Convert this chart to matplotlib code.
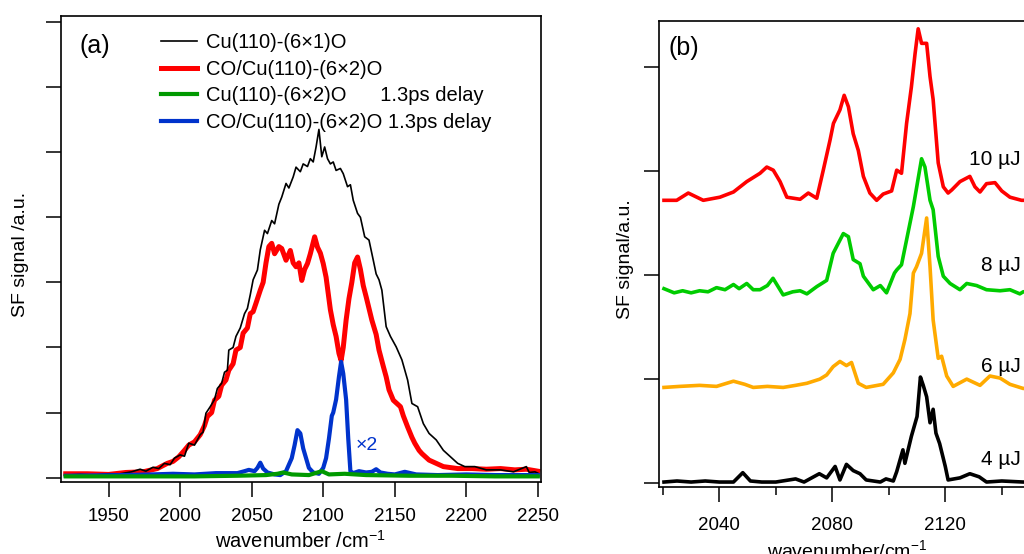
import matplotlib
matplotlib.use("Agg")
import matplotlib.pyplot as plt
from matplotlib.ticker import MultipleLocator

plt.rcParams['font.family'] = ['Liberation Sans', 'DejaVu Sans']
plt.rcParams['mathtext.fontset'] = 'custom'
plt.rcParams['mathtext.rm'] = 'Liberation Sans'

# ---- panel (a) data, y in tick units ----
wn_black = [1920, 1930, 1940, 1950, 1958, 1966, 1972, 1976, 1981, 1985, 1989, 1993, 1996, 2000,
            2003, 2006, 2010, 2014, 2016, 2018, 2021, 2024, 2026, 2029, 2031, 2033, 2034, 2037,
            2039, 2042, 2045, 2047, 2049, 2051, 2054, 2056, 2059, 2061, 2064, 2066, 2069, 2071,
            2074, 2076, 2079, 2081, 2084, 2086, 2089, 2091, 2093, 2095, 2097, 2099, 2101, 2103,
            2105, 2107, 2109, 2112, 2114, 2117, 2119, 2121, 2124, 2126, 2129, 2132, 2135, 2137,
            2139, 2141, 2144, 2147, 2151, 2155, 2159, 2162, 2166, 2170, 2174, 2179, 2184, 2189,
            2194, 2199, 2206, 2214, 2224, 2233, 2242, 2244, 2248, 2250]
sig_black = [0.04, 0.05, 0.04, 0.06, 0.06, 0.09, 0.13, 0.10, 0.16, 0.14, 0.22, 0.20, 0.30, 0.35,
             0.33, 0.53, 0.50, 0.66, 0.70, 0.99, 1.09, 1.20, 1.37, 1.45, 1.62, 1.65, 1.96, 2.00,
             2.17, 2.30, 2.52, 2.60, 2.81, 3.04, 3.19, 3.50, 3.80, 3.75, 3.95, 3.90, 4.20, 4.31,
             4.52, 4.45, 4.62, 4.77, 4.70, 4.82, 4.78, 4.90, 4.85, 5.08, 5.35, 4.93, 5.08, 4.90,
             4.82, 4.85, 4.72, 4.75, 4.67, 4.47, 4.50, 4.26, 4.06, 4.00, 3.70, 3.65, 3.34, 3.13,
             3.04, 2.88, 2.32, 2.17, 2.01, 1.81, 1.50, 1.14, 1.09, 0.83, 0.68, 0.58, 0.42, 0.32,
             0.22, 0.17, 0.17, 0.12, 0.12, 0.09, 0.17, 0.08, 0.09, 0.07]

wn_red = [1920, 1935, 1950, 1962, 1974, 1984, 1991, 1995, 1999, 2003, 2006, 2010, 2014, 2017,
          2019, 2022, 2024, 2027, 2029, 2032, 2034, 2037, 2039, 2042, 2044, 2047, 2049, 2051,
          2053, 2056, 2058, 2060, 2062, 2064, 2066, 2069, 2071, 2074, 2077, 2079, 2081, 2083,
          2085, 2087, 2089, 2091, 2094, 2096, 2098, 2100, 2102, 2105, 2107, 2109, 2111, 2112.5,
          2114, 2116, 2118, 2120, 2122, 2124, 2126, 2128, 2130, 2132, 2134, 2137, 2139, 2142,
          2144, 2146, 2149, 2151, 2154, 2156, 2159, 2162, 2164, 2167, 2169, 2174, 2179, 2184,
          2194, 2204, 2214, 2224, 2234, 2242, 2250]
sig_red = [0.06, 0.06, 0.05, 0.08, 0.09, 0.14, 0.22, 0.25, 0.32, 0.42, 0.50, 0.55, 0.66, 0.80,
           0.94, 1.00, 1.19, 1.25, 1.42, 1.50, 1.65, 1.75, 1.96, 2.00, 2.22, 2.30, 2.52, 2.55,
           2.68, 2.88, 3.00, 3.30, 3.55, 3.60, 3.44, 3.55, 3.52, 3.34, 3.49, 3.30, 3.24, 3.30,
           3.03, 3.20, 3.29, 3.44, 3.70, 3.54, 3.45, 3.29, 3.08, 2.58, 2.35, 2.17, 1.91, 1.80,
           2.00, 2.42, 2.75, 3.00, 3.30, 3.39, 3.20, 2.95, 2.78, 2.60, 2.42, 2.20, 1.96, 1.71,
           1.55, 1.35, 1.19, 1.15, 1.09, 0.95, 0.78, 0.62, 0.53, 0.42, 0.37, 0.27, 0.22, 0.17,
           0.14, 0.14, 0.13, 0.14, 0.12, 0.13, 0.10]

wn_blue = [1920, 1960, 1980, 1995, 2010, 2025, 2040, 2045, 2048, 2052, 2054, 2056, 2058, 2061,
           2066, 2070, 2074, 2076, 2078, 2080, 2082, 2084, 2086, 2088, 2090, 2093, 2097, 2100,
           2102, 2104, 2106, 2107, 2109, 2111, 2112.5, 2114, 2116, 2117.5, 2119, 2121, 2125,
           2130, 2134, 2137, 2140, 2145, 2150, 2157, 2165, 2180, 2200, 2220, 2250]
sig_blue = [0.03, 0.04, 0.05, 0.06, 0.05, 0.07, 0.07, 0.10, 0.12, 0.10, 0.15, 0.23, 0.14, 0.08,
            0.05, 0.04, 0.10, 0.20, 0.30, 0.50, 0.73, 0.68, 0.45, 0.30, 0.15, 0.08, 0.06, 0.15,
            0.30, 0.60, 0.95, 1.00, 1.20, 1.55, 1.78, 1.60, 1.20, 0.60, 0.10, 0.07, 0.10,
            0.08, 0.09, 0.13, 0.08, 0.06, 0.05, 0.09, 0.05, 0.04, 0.05, 0.04, 0.04]

wn_green = [1920, 1950, 1980, 2010, 2040, 2060, 2068, 2072, 2078, 2090, 2096, 2099, 2104, 2115,
            2130, 2160, 2190, 2220, 2250]
sig_green = [0.02, 0.02, 0.02, 0.02, 0.03, 0.04, 0.06, 0.08, 0.05, 0.04, 0.08, 0.10, 0.05, 0.06,
             0.04, 0.03, 0.03, 0.02, 0.02]

labels_a = ['Cu(110)-(6\u00d71)O', 'CO/Cu(110)-(6\u00d72)O',
            'Cu(110)-(6\u00d72)O      1.3ps delay', 'CO/Cu(110)-(6\u00d72)O 1.3ps delay']

# ---- panel (b) data, offset traces ----
wn_4uj = [2020.4, 2025, 2030, 2035, 2040, 2045, 2048.3, 2051, 2055, 2060, 2067, 2070, 2075.4,
          2078, 2081, 2082.7, 2085, 2087.4, 2089.8, 2092, 2097, 2099, 2101.6, 2102.8, 2105,
          2105.7, 2108, 2110, 2111.2, 2112.2, 2113.4, 2114.6, 2115.7, 2116.7, 2118, 2120, 2121,
          2125.2, 2128.7, 2132, 2134.6, 2140, 2147.6, 2152]
sig_4uj = [0.01, 0.02, 0.01, 0.02, 0.01, 0.01, 0.10, 0.02, 0.01, 0.01, 0.04, 0.01, 0.09,
           0.05, 0.16, 0.03, 0.18, 0.12, 0.09, 0.03, 0.01, 0.04, 0.02, 0.11, 0.32,
           0.19, 0.45, 0.64, 1.02, 0.94, 0.83, 0.58, 0.71, 0.48, 0.38, 0.16, 0.03,
           0.05, 0.09, 0.06, 0.01, 0.02, 0.01, 0.01]

wn_6uj = [2020.4, 2026, 2033, 2039, 2045, 2049, 2052, 2057, 2062.6, 2067, 2071, 2075.6, 2078,
          2080.3, 2082.7, 2085, 2086.8, 2089.2, 2092, 2098, 2101.6, 2104, 2105.7, 2107.5,
          2108.7, 2109.8, 2111.6, 2113.4, 2114.6, 2115.7, 2117.5, 2118.7, 2120.5, 2122.8,
          2127.6, 2132.3, 2135.8, 2139.4, 2142.9, 2147.6, 2152]
sig_6uj = [0.92, 0.93, 0.94, 0.93, 0.98, 0.95, 0.92, 0.93, 0.92, 0.94, 0.96, 1.00, 1.04,
           1.12, 1.17, 1.13, 1.16, 0.96, 0.92, 0.95, 1.06, 1.19, 1.38, 1.63,
           2.02, 2.08, 2.21, 2.55, 2.08, 1.57, 1.20, 1.22, 1.03, 0.93,
           1.00, 0.94, 1.03, 1.01, 0.95, 0.91, 0.92]

wn_8uj = [2020.4, 2024, 2027, 2030, 2033, 2036, 2039, 2042, 2045, 2047, 2049.7, 2052, 2054.4,
          2057, 2059, 2062.6, 2066, 2068.6, 2071, 2074.5, 2078, 2080.3, 2082, 2083.9, 2085.7,
          2087.4, 2089.8, 2091, 2094.5, 2097, 2099.2, 2102, 2102.8, 2104.5, 2106.3, 2108.7,
          2111.6, 2112.8, 2114.6, 2115.7, 2117.5, 2119.3, 2121.7, 2125.2, 2127.6, 2131.1,
          2134.6, 2139.4, 2142.9, 2146.4, 2147.6, 2152]
sig_8uj = [1.87, 1.83, 1.85, 1.83, 1.85, 1.84, 1.88, 1.86, 1.91, 1.87, 1.92, 1.86, 1.86,
           1.90, 1.97, 1.81, 1.84, 1.85, 1.82, 1.89, 1.95, 2.21, 2.30, 2.40, 2.37,
           2.15, 2.11, 1.99, 1.86, 1.90, 1.83, 2.02, 2.05, 2.10, 2.34, 2.66,
           3.12, 3.04, 2.72, 2.63, 2.18, 1.99, 1.92, 1.86, 1.92, 1.90,
           1.86, 1.85, 1.86, 1.82, 1.84, 1.85]

wn_10uj = [2020.4, 2024.9, 2029, 2034.3, 2040.2, 2045, 2049.7, 2054.4, 2056.8, 2059.1, 2061.5,
           2063.9, 2068.6, 2071.5, 2074.5, 2076.8, 2079.2, 2080.4, 2082.7, 2084.2, 2085.7,
           2087.4, 2089.2, 2091, 2093.3, 2095.7, 2098, 2101, 2102.8, 2104.5, 2106.3, 2108,
           2109.3, 2110.4, 2111.6, 2113.4, 2114.6, 2115.7, 2117.5, 2119.3, 2121, 2122.3,
           2125.2, 2128.7, 2130.5, 2132.3, 2134.6, 2137.6, 2140, 2142.9, 2147, 2152]
sig_10uj = [2.72, 2.72, 2.79, 2.72, 2.75, 2.80, 2.90, 2.98, 3.04, 3.01, 2.90,
            2.75, 2.73, 2.79, 2.74, 3.01, 3.30, 3.46, 3.59, 3.73, 3.62,
            3.36, 3.20, 2.95, 2.79, 2.72, 2.78, 2.81, 3.01, 2.98, 3.46, 3.81,
            4.13, 4.37, 4.23, 4.23, 3.91, 3.69, 3.08, 2.85, 2.79, 2.82,
            2.90, 2.95, 2.85, 2.80, 2.88, 2.89, 2.81, 2.75, 2.72, 2.72]

label_b = ['4 \u00b5J', '6 \u00b5J', '8 \u00b5J', '10 \u00b5J']
label_b_y = [0.23, 1.12, 2.09, 3.11]

fig = plt.figure(figsize=(10.24, 5.54), dpi=100)

# ---------------- panel (a) ----------------
ax1 = fig.add_axes([0.0593, 0.130, 0.4691, 0.8417])
ax1.plot(wn_red, sig_red, color='#ff0000', lw=3.6, zorder=1, label=labels_a[1])
ax1.plot(wn_black, sig_black, color='black', lw=1.2, zorder=2, label=labels_a[0])
ax1.plot(wn_blue, sig_blue, color='#0033cc', lw=3.0, zorder=3, label=labels_a[3])
ax1.plot(wn_green, sig_green, color='#009900', lw=3.0, zorder=4, label=labels_a[2])
ax1.set_xlim(1916.5, 2252.3)
ax1.set_ylim(-0.066, 7.097)
ax1.set_xticks([1950, 2000, 2050, 2100, 2150, 2200, 2250])
ax1.set_yticks(range(8))
ax1.set_yticklabels([])
ax1.tick_params(direction='out', length=11, width=1.1, labelsize=13.5, pad=8)
for s in ax1.spines.values():
    s.set_linewidth(1.2)
ax1.set_xlabel('wavenumber /cm$^{-1}$', fontsize=14.5, labelpad=3)
ax1.set_ylabel('SF signal /a.u.', fontsize=14)
ax1.yaxis.set_label_coords(-0.067, 0.487)
ax1.text(0.040, 0.935, '(a)', transform=ax1.transAxes, fontsize=18, ha='left', va='center')
ax1.text(2122.9, 0.50, '\u00d72', color='#0033cc', fontsize=14, ha='left', va='center')

h, l = ax1.get_legend_handles_labels()
order = [1, 0, 3, 2]
ax1.legend([h[i] for i in order], [l[i] for i in order], loc='upper left',
           bbox_to_anchor=(160.7 / 1024, 1 - 33 / 554), bbox_transform=fig.transFigure,
           frameon=False, fontsize=14.5, handlelength=1.8, handletextpad=0.45,
           labelspacing=0.38, borderpad=0, borderaxespad=0)

# ---------------- panel (b) ----------------
ax2 = fig.add_axes([0.6436, 0.1209, 0.3664, 0.8412])
ax2.plot(wn_10uj, sig_10uj, color='#ff0000', lw=2.6)
ax2.plot(wn_8uj, sig_8uj, color='#00cc00', lw=2.6)
ax2.plot(wn_6uj, sig_6uj, color='#ffaa00', lw=2.6)
ax2.plot(wn_4uj, sig_4uj, color='black', lw=2.6)
ax2.set_xlim(2018.65, 2151.5)
ax2.set_ylim(-0.038, 4.445)
ax2.set_xticks([2040, 2080, 2120])
ax2.xaxis.set_minor_locator(MultipleLocator(20))
ax2.set_yticks(range(5))
ax2.set_yticklabels([])
ax2.tick_params(direction='out', length=10.5, width=1.1, labelsize=13.5, pad=11)
ax2.tick_params(which='minor', direction='out', length=6, width=1.1)
ax2.spines['right'].set_visible(False)
for s in ['left', 'top', 'bottom']:
    ax2.spines[s].set_linewidth(1.2)
ax2.set_xlabel('wavenumber/cm$^{-1}$', fontsize=14, labelpad=4)
ax2.set_ylabel('SF signal/a.u.', fontsize=14)
ax2.yaxis.set_label_coords(-0.068, 0.49)
for txt, yy in zip(label_b, label_b_y):
    ax2.text(2146.8, yy, txt, fontsize=15, ha='right', va='center')
fig.text(669 / 1024, 1 - 48 / 554, '(b)', fontsize=18, ha='left', va='center')

fig.savefig('out.png', dpi=100)
